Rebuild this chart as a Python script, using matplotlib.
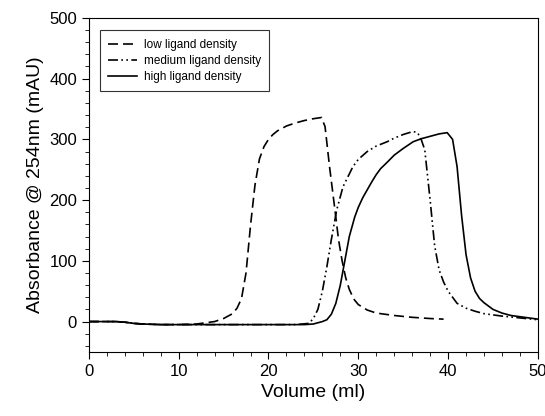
import numpy as np
import matplotlib
matplotlib.use("Agg")
import matplotlib.pyplot as plt
from matplotlib.ticker import MultipleLocator

plt.rcParams['font.family'] = ['Liberation Sans', 'DejaVu Sans']

# low ligand density
low_x = [0, 3, 4, 5, 6, 8, 10, 12, 14, 15, 16, 16.5, 17, 17.5, 18, 18.5, 19, 19.5, 20, 20.5, 21, 22, 23, 24,
         25, 25.9, 26.3, 26.8, 27.4, 27.8, 28.2, 28.6, 29, 29.5, 30, 31, 32, 34, 36, 38, 39.5]
low_y = [0, 0, -1, -3, -4, -5, -5, -4, 0, 5, 13, 22, 38, 80, 158, 225, 268, 288, 300, 308, 314, 322, 327, 331,
         334, 336, 321, 255, 184, 135, 100, 72, 53, 37, 28, 19, 14, 10, 7, 5, 4]

# medium ligand density
med_x = [0, 3, 4, 5, 6, 8, 10, 15, 20, 23, 24.5, 25, 25.5, 26, 26.5, 27, 27.6, 28.3, 29.4, 30, 31, 32, 33.2,
         34, 35, 36.1, 36.6, 37, 37.4, 38, 38.5, 39, 39.5, 40, 41, 42, 43, 44, 46, 48, 50]
med_y = [0, 0, -1, -3, -4, -5, -5, -5, -5, -5, -3, 5, 20, 50, 90, 135, 184, 222, 255, 267, 280, 289, 296,
         302, 308, 313, 311, 300, 283, 200, 125, 85, 65, 50, 30, 22, 17, 13, 9, 6, 3]

# high ligand density
high_x = [0, 3, 4, 5, 6, 8, 10, 15, 20, 24, 25, 25.5, 26, 26.5, 27, 27.5, 28, 28.5, 29, 29.6, 30, 30.5, 31,
          31.5, 32, 32.5, 33.2, 34, 35, 36.1, 37, 38, 39, 39.9, 40.5, 41, 41.5, 42, 42.5, 43, 43.5, 44, 45,
          46, 47, 48, 50]
high_y = [0, 0, -1, -3, -4, -5, -5, -5, -5, -5, -4, -2, 0, 3, 12, 30, 60, 100, 140, 172, 188, 204, 217,
          230, 242, 252, 262, 274, 285, 296, 301, 305, 309, 311, 300, 255, 175, 110, 72, 50, 38, 31, 20,
          14, 10, 8, 4]

fig = plt.figure(figsize=(5.45, 4.16), dpi=100)
ax = fig.add_axes([0.163, 0.154, 0.824, 0.803])

ax.plot(low_x, low_y, color='black', lw=1.2, linestyle=(0, (6, 3)), label='low ligand density')
ax.plot(med_x, med_y, color='black', lw=1.2, linestyle=(0, (6, 2, 1, 2, 1, 2)), label='medium ligand density')
ax.plot(high_x, high_y, color='black', lw=1.2, label='high ligand density')

ax.set_xlim(0, 50)
ax.set_ylim(-50, 500)
ax.xaxis.set_major_locator(MultipleLocator(10))
ax.xaxis.set_minor_locator(MultipleLocator(2))
ax.yaxis.set_major_locator(MultipleLocator(100))
ax.yaxis.set_minor_locator(MultipleLocator(20))
ax.tick_params(which='both', direction='out', top=False, right=False, labelsize=12)
ax.tick_params(which='major', length=5)
ax.tick_params(which='minor', length=3)

ax.set_xlabel('Volume (ml)', fontsize=14)
ax.set_ylabel('Absorbance @ 254nm (mAU)', fontsize=14)

leg = ax.legend(loc='upper left', bbox_to_anchor=(0.012, 0.98), fontsize=8.5, frameon=True,
                fancybox=False, edgecolor='black', handlelength=2.4, handletextpad=0.6,
                borderpad=0.7, labelspacing=0.35)
leg.get_frame().set_linewidth(0.8)

fig.savefig('out.png', dpi=100)
